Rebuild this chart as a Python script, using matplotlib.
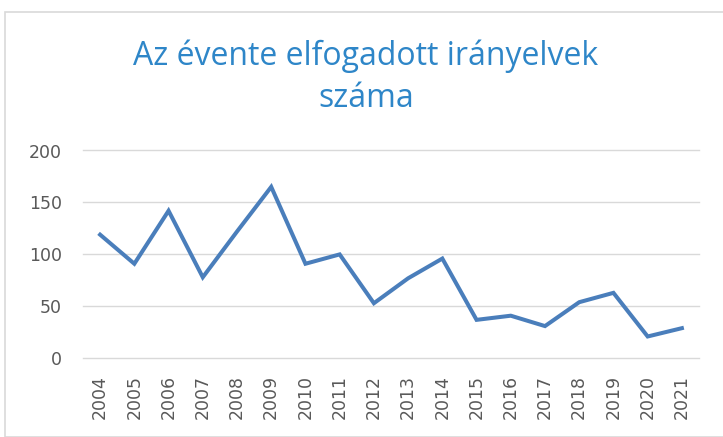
import matplotlib
matplotlib.use('Agg')
import matplotlib.pyplot as plt
from matplotlib.patches import Rectangle

# Adatok
years = ['2004', '2005', '2006', '2007', '2008', '2009', '2010', '2011', '2012',
         '2013', '2014', '2015', '2016', '2017', '2018', '2019', '2020', '2021']
counts = [119, 91, 142, 78, 122, 165, 91, 100, 53,
          77, 96, 37, 41, 31, 54, 63, 21, 29]
y_ticks = [0, 50, 100, 150, 200]

W, H = 723, 437
fig = plt.figure(figsize=(W / 100, H / 100), dpi=100)

# keret a diagramterulet korul
fig.patches.append(Rectangle((5 / W, 0), 1, 1 - 12 / H, transform=fig.transFigure,
                             fill=False, edgecolor='#d9d9d9', linewidth=1.2))

ax = fig.add_axes([83 / W, 1 - 358.3 / H, (699 - 83) / W, (358.3 - 150.5) / H])
x = list(range(len(years)))
ax.plot(x, counts, color='#4a7ebb', linewidth=2.9, solid_joinstyle='miter', zorder=3)

ax.set_xlim(-0.5, len(years) - 0.5)
ax.set_ylim(0, 200)
ax.set_yticks(y_ticks)
ax.set_xticks(x)
ax.set_xticklabels(years, rotation=90)
ax.grid(axis='y', color='#d9d9d9', linewidth=1)
for gl in ax.get_ygridlines():
    gl.set_clip_on(False)
ax.set_axisbelow(True)
for s in ax.spines.values():
    s.set_visible(False)
ax.tick_params(axis='y', length=0, pad=15, labelsize=12.5, labelcolor='#595959')
ax.tick_params(axis='x', length=0, pad=12, labelsize=12.5, labelcolor='#595959')

fig.text(366 / W, 1 - 65 / H, 'Az évente elfogadott irányelvek', ha='center', va='baseline',
         fontsize=23, color='#2e86c8', family='Open Sans')
fig.text(366 / W, 1 - 107 / H, 'száma', ha='center', va='baseline',
         fontsize=23, color='#2e86c8', family='Open Sans')

fig.savefig('out.png', dpi=100)
